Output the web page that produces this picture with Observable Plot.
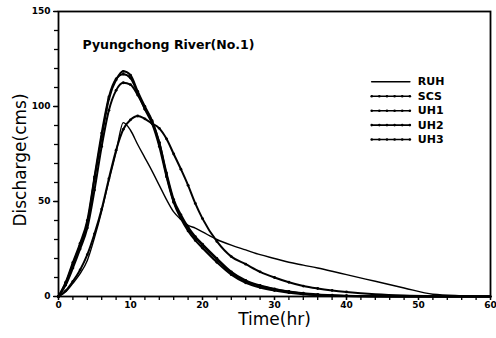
<!DOCTYPE html>
<html><head><meta charset="utf-8">
<script src="https://cdn.jsdelivr.net/npm/d3@7"></script>
<script src="https://cdn.jsdelivr.net/npm/@observablehq/plot@0.6"></script>
<style>body{margin:0;background:#fff}</style>
</head><body><div id="chart"></div>
<script>
// ---- data ----
const hours = [0,1,2,3,4,5,6,7,8,9,10,11,12,13,14,15,16,17,18,19,20,22,24,26,28,30,32,34,36,38,40,44,48,52,56,60];
const RUH = [0,2.5,7,12,19,31,45,61,76,91.5,87.5,80,73,66,58.5,51,44.5,40.5,37.5,36,34,30,27,24.5,22,20,18,16.5,15,13.3,11.5,8,4.5,1.2,0.4,0];
const SCS = [0,7,17,27,38,62,84,104,114,118.5,116.5,108,100,92.5,81,64,50,42,35.5,31,27,19.5,12.5,8,5.5,3.8,2.5,1.5,0.9,0.5,0.3,0.1,0,0,0,0];
const UH1 = [0,6,15,25,36,56,79,98,108.5,112.5,111.5,106,99,92,81,65,51,43,36.5,31.5,27.5,20,13,8.5,5.8,4,2.7,1.7,1.1,0.7,0.4,0.15,0,0,0,0];
const UH2 = [0,3,8,14,22,33,46,62,77,88,93,95,93.5,91,88.5,83,75,67,58.5,49,41,29,21,17,13,10,7.5,5.5,4.2,3.2,2.4,1.2,0.5,0.15,0,0];
const UH3 = [0,7.5,18,28,40,63,86,105,114.5,117,115,107,98.5,91,79,63,49.5,41,34.5,29.5,25.5,18,11.5,7.2,4.7,3.1,2,1.2,0.7,0.4,0.2,0,0,0,0,0];
const seriesNames = ["RUH","SCS","UH1","UH2","UH3"];
const seriesValues = [RUH, SCS, UH1, UH2, UH3];
const xTicks = [0,10,20,30,40,50,60];
const yTicks = [0,50,100,150];
const titleText = "Pyungchong River(No.1)";
const xLabel = "Time(hr)";
const yLabel = "Discharge(cms)";

// ---- table ----
const rows = seriesNames.flatMap((name, i) =>
  hours.map((h, j) => ({series: name, t: h, q: seriesValues[i][j]})));
const dotted = rows.filter(d => d.series !== "RUH");

// legend layout (in data units)
const legX0 = 43.5, legX1 = 48.8, legTextX = 49.9;
const legY = seriesNames.map((n, i) => ({series: n, y: 113 - i * 7.6}));
const legLines = legY.flatMap(d => [{series: d.series, t: legX0, q: d.y}, {series: d.series, t: legX1, q: d.y}]);
const legDots = legY.filter(d => d.series !== "RUH").flatMap(d =>
  d3.range(6).map(k => ({series: d.series, t: legX0 + k * (legX1 - legX0) / 5, q: d.y})));

const chart = Plot.plot({
  width: 496, height: 338,
  marginLeft: 58, marginRight: 6, marginTop: 11, marginBottom: 42,
  style: {fontFamily: "DejaVu Sans", background: "#fff", color: "#000"},
  x: {domain: [0, 60]},
  y: {domain: [0, 150]},
  marks: [
    Plot.axisX({ticks: d3.range(0, 61, 2), tickSize: 4, tickFormat: () => "", label: null, strokeWidth: 1.3}),
    Plot.axisX({ticks: xTicks, tickSize: 4, tickPadding: 1, label: null, fontSize: 9, fontWeight: "bold", strokeWidth: 1.3}),
    Plot.axisY({ticks: d3.range(0, 151, 10), tickSize: 4, tickFormat: () => "", label: null, strokeWidth: 1.3}),
    Plot.axisY({ticks: yTicks, tickSize: 5, tickPadding: 3, label: null, fontSize: 9, fontWeight: "bold", strokeWidth: 1.3}),
    Plot.frame({stroke: "#000", strokeWidth: 1.8}),
    Plot.line(rows.filter(d => d.series === "RUH"), {x: "t", y: "q", stroke: "#000", strokeWidth: 1.4, curve: "monotone-x"}),
    Plot.line(dotted, {x: "t", y: "q", z: "series", stroke: "#000", strokeWidth: 2, curve: "monotone-x"}),
    Plot.dot(dotted.filter(d => d.t <= 40), {x: "t", y: "q", r: 1.4, fill: "#000"}),
    Plot.line(legLines, {x: "t", y: "q", z: "series", stroke: "#000", strokeWidth: 1.6}),
    Plot.dot(legDots, {x: "t", y: "q", r: 1.3, fill: "#000"}),
    Plot.text(legY, {x: legTextX, y: "y", text: "series", textAnchor: "start", fontSize: 11, fontWeight: "bold", fill: "#000"}),
    Plot.text([titleText], {frameAnchor: "top-left", dx: 24, dy: 29, textAnchor: "start", fontSize: 12.5, fontWeight: "bold", fill: "#000"}),
    Plot.text([xLabel], {frameAnchor: "bottom", lineAnchor: "top", dy: 16, fontSize: 17, fill: "#000"}),
    Plot.text([yLabel], {frameAnchor: "left", textAnchor: "middle", lineAnchor: "middle", dx: -38, dy: 6, rotate: -90, fontSize: 17, fill: "#000"})
  ]
});
document.getElementById("chart").appendChild(chart);
</script>
</body></html>
